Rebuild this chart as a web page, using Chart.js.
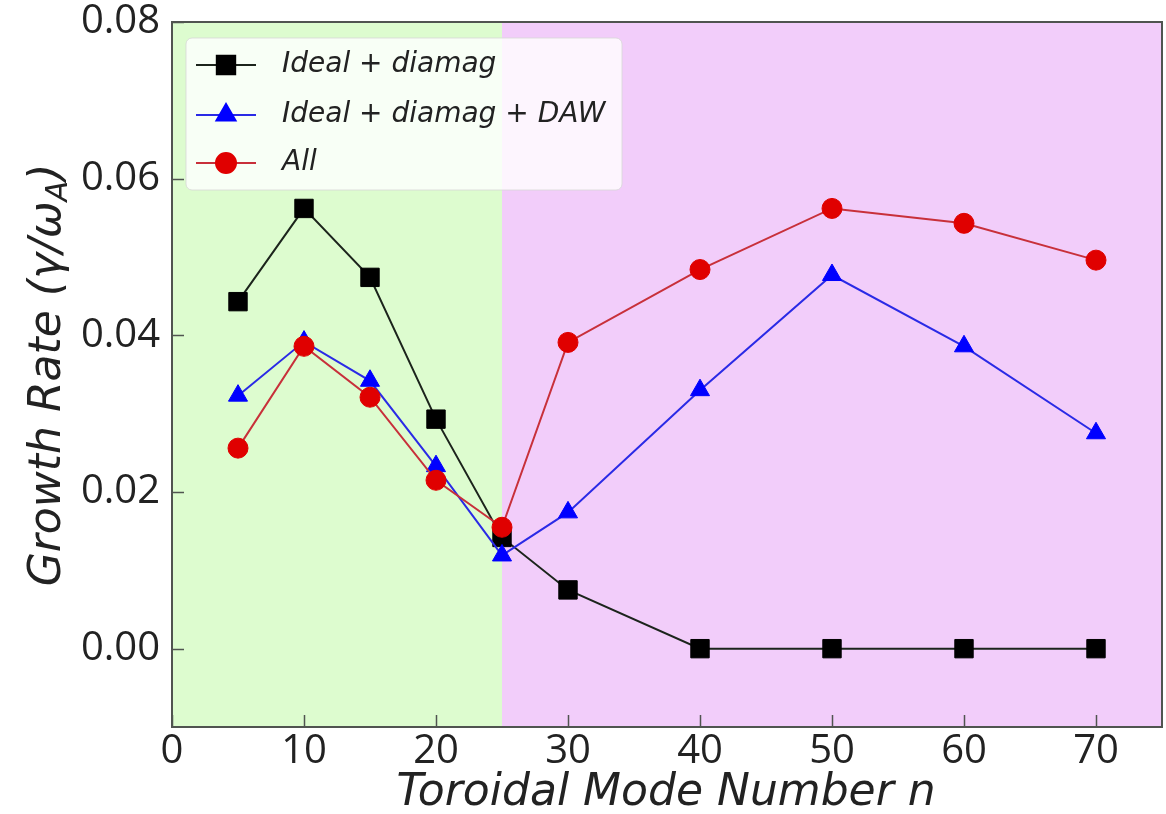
<!DOCTYPE html>
<html>
<head>
<meta charset="utf-8">
<script src="https://cdn.jsdelivr.net/npm/chart.js@4.4.1/dist/chart.umd.min.js"></script>
<style>
  html, body { margin: 0; padding: 0; background: #fff; }
  canvas { display: block; }
</style>
</head>
<body>
<canvas id="chart" width="1166" height="814"></canvas>
<script>
// toroidal mode numbers
const modeNumbers = [5, 10, 15, 20, 25, 30, 40, 50, 60, 70];

// growth rates gamma / omega_A
const idealDiamag = [0.0443, 0.0562, 0.0474, 0.0293, 0.0142, 0.0075, 0.0, 0.0, 0.0, 0.0];
const idealDiamagDaw = [0.0323, 0.0392, 0.0342, 0.0233, 0.0119, 0.0174, 0.0330, 0.0477, 0.0386, 0.0275];
const allEffects = [0.0256, 0.0386, 0.0321, 0.0215, 0.0155, 0.0391, 0.0484, 0.0562, 0.0543, 0.0496];

const seriesNames = ['Ideal + diamag', 'Ideal + diamag + DAW', 'All'];

const xTickValues = [0, 10, 20, 30, 40, 50, 60, 70];
const yTickValues = [0.00, 0.02, 0.04, 0.06, 0.08];

// shaded regions along n
const regionBounds = [[0, 25], [25, 75]];
const regionColors = ['#ddfccf', '#f2cdfa'];

const toPoints = ys => modeNumbers.map((n, i) => ({ x: n, y: ys[i] }));

const styles = [
  { line: '#1c241c', fill: '#000000', shape: 'rect', radius: 13 },
  { line: '#2a2ae6', fill: '#0000ff', shape: 'triangle', radius: 11 },
  { line: '#c8303a', fill: '#e00000', shape: 'circle', radius: 10 }
];

const TICK_FONT = '"Open Sans", "DejaVu Sans", sans-serif';
const LABEL_FONT = '"DejaVu Sans", sans-serif';
const frameColor = '#505450';
const textColor = '#222222';

const backgroundPlugin = {
  id: 'regions',
  beforeDatasetsDraw(chart) {
    const { ctx, chartArea, scales } = chart;
    ctx.save();
    regionBounds.forEach((b, i) => {
      const x0 = scales.x.getPixelForValue(b[0]);
      const x1 = scales.x.getPixelForValue(b[1]);
      ctx.fillStyle = regionColors[i];
      ctx.fillRect(x0, chartArea.top, x1 - x0, chartArea.bottom - chartArea.top);
    });
    ctx.restore();
  }
};

const framePlugin = {
  id: 'frame',
  afterDatasetsDraw(chart) {
    const { ctx, chartArea, scales } = chart;
    const { left, right, top, bottom } = chartArea;
    ctx.save();
    ctx.strokeStyle = frameColor;
    ctx.lineWidth = 1.5;
    // inward ticks
    ctx.beginPath();
    scales.y.ticks.forEach(t => {
      const y = Math.round(scales.y.getPixelForValue(t.value)) + 0.5;
      ctx.moveTo(left, y);
      ctx.lineTo(left + 12, y);
    });
    scales.x.ticks.forEach(t => {
      const x = Math.round(scales.x.getPixelForValue(t.value)) + 0.5;
      ctx.moveTo(x, bottom);
      ctx.lineTo(x, bottom - 12);
    });
    ctx.stroke();
    ctx.lineWidth = 2;
    ctx.strokeRect(left, top, right - left, bottom - top);
    ctx.restore();
  }
};

const legendPlugin = {
  id: 'customLegend',
  afterDraw(chart) {
    const { ctx } = chart;
    const bx = 186, by = 38, bw = 436, bh = 152;
    ctx.save();
    ctx.beginPath();
    ctx.roundRect(bx, by, bw, bh, 6);
    ctx.fillStyle = 'rgba(255,255,255,0.8)';
    ctx.fill();
    ctx.strokeStyle = 'rgba(215,215,215,0.8)';
    ctx.lineWidth = 1;
    ctx.stroke();

    const rows = [65, 115, 163];
    ctx.font = 'italic 28px ' + LABEL_FONT;
    ctx.textBaseline = 'middle';
    ctx.textAlign = 'left';
    seriesNames.forEach((name, i) => {
      const s = styles[i];
      const y = rows[i];
      ctx.strokeStyle = s.line;
      ctx.lineWidth = 2;
      ctx.beginPath();
      ctx.moveTo(196, y);
      ctx.lineTo(256, y);
      ctx.stroke();
      ctx.fillStyle = s.fill;
      ctx.strokeStyle = s.fill;
      Chart.helpers.drawPoint(ctx, {
        pointStyle: s.shape, radius: s.radius, rotation: 0, borderWidth: 1
      }, 226, y);
      ctx.fillStyle = textColor;
      ctx.fillText(name, 282, y);
    });
    ctx.restore();
  }
};

const titlePlugin = {
  id: 'axisTitles',
  afterDraw(chart) {
    const { ctx } = chart;
    ctx.save();
    ctx.fillStyle = textColor;
    ctx.textBaseline = 'alphabetic';

    // x axis title
    ctx.font = 'italic 44px ' + LABEL_FONT;
    ctx.textAlign = 'center';
    ctx.fillText('Toroidal Mode Number n', 666, 805);

    // y axis title with subscript
    const main = 'Growth Rate (\u03b3/\u03c9';
    const sub = 'A';
    const close = ')';
    const bigFont = 'italic 44px ' + LABEL_FONT;
    const subFont = 'italic 30px ' + LABEL_FONT;
    ctx.font = bigFont;
    const wMain = ctx.measureText(main).width;
    const wClose = ctx.measureText(close).width;
    ctx.font = subFont;
    const wSub = ctx.measureText(sub).width;
    const total = wMain + wSub + wClose;
    ctx.translate(60, 375);
    ctx.rotate(-Math.PI / 2);
    ctx.textAlign = 'left';
    let x = -total / 2;
    ctx.font = bigFont;
    ctx.fillText(main, x, 0);
    x += wMain;
    ctx.font = subFont;
    ctx.fillText(sub, x, 7);
    x += wSub;
    ctx.font = bigFont;
    ctx.fillText(close, x, 0);
    ctx.restore();
  }
};

const ctx = document.getElementById('chart').getContext('2d');
const chart = new Chart(ctx, {
  type: 'line',
  data: {
    datasets: [idealDiamag, idealDiamagDaw, allEffects].map((ys, i) => ({
      label: seriesNames[i],
      data: toPoints(ys),
      borderColor: styles[i].line,
      backgroundColor: styles[i].fill,
      pointBackgroundColor: styles[i].fill,
      pointBorderColor: styles[i].fill,
      pointBorderWidth: 1,
      pointStyle: styles[i].shape,
      pointRadius: styles[i].radius,
      pointHoverRadius: styles[i].radius,
      borderWidth: 2,
      tension: 0,
      fill: false,
      order: 3 - i,
      clip: false
    }))
  },
  options: {
    responsive: false,
    animation: false,
    events: [],
    layout: {
      autoPadding: false,
      padding: { left: 0, top: 22, right: 4, bottom: 0 }
    },
    scales: {
      x: {
        type: 'linear',
        min: 0,
        max: 75,
        afterBuildTicks: scale => {
          scale.ticks = xTickValues.map(v => ({ value: v }));
        },
        afterFit: scale => {
          scale.height = 87;
          scale.paddingLeft = 0;
          scale.paddingRight = 0;
        },
        grid: { display: false, drawTicks: false },
        border: { display: false },
        ticks: {
          padding: 1,
          color: textColor,
          font: { family: TICK_FONT, size: 40 }
        }
      },
      y: {
        type: 'linear',
        min: -0.01,
        max: 0.08,
        afterBuildTicks: scale => {
          scale.ticks = yTickValues.map(v => ({ value: v }));
        },
        afterFit: scale => {
          scale.width = 172;
          scale.paddingTop = 0;
          scale.paddingBottom = 0;
        },
        grid: { display: false, drawTicks: false },
        border: { display: false },
        ticks: {
          padding: 12,
          color: textColor,
          font: { family: TICK_FONT, size: 40 },
          callback: v => v.toFixed(2)
        }
      }
    },
    plugins: {
      legend: { display: false },
      tooltip: { enabled: false }
    }
  },
  plugins: [backgroundPlugin, framePlugin, legendPlugin, titlePlugin]
});
</script>
</body>
</html>
